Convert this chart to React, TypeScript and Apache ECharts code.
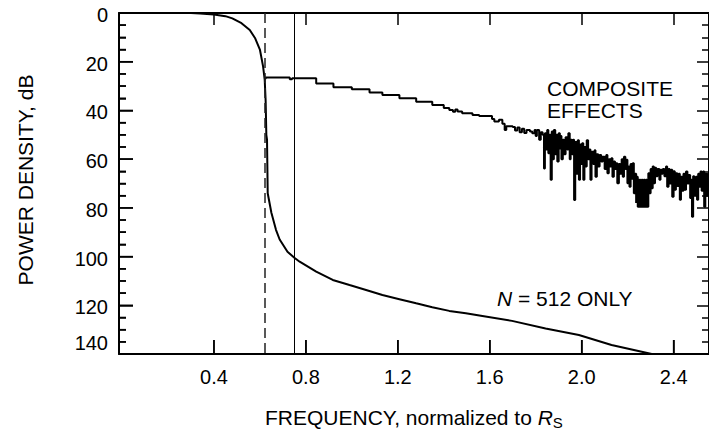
import React, { useEffect, useRef } from "react";
import * as echarts from "echarts";

const FONT = "'Liberation Sans', Arial, sans-serif";

const xTickValues = [0.4, 0.8, 1.2, 1.6, 2.0, 2.4];
const yTickMarks = [
  0, 5, 10, 15, 20, 25, 30, 35, 40, 45, 50, 55, 60, 65, 70, 75, 80, 85, 90, 95,
  100, 105, 110, 115, 120, 125, 130, 135, 140,
];
const yMin = 0;
const yMax = 140;
const yInterval = 20;
const xMin = -0.013;
const xMax = 2.554;

const cutoffDashed = 0.62;
const cutoffSolid = 0.75;

// N = 512 only  [frequency, dB]
const n512Data: [number, number][] = [
  [0, 0], [0.1, 0], [0.2, 0], [0.3, 0], [0.34, 0.2], [0.4, 0.6], [0.45, 1.3],
  [0.48, 2.2], [0.52, 4.2], [0.556, 7], [0.58, 10.5], [0.6, 15], [0.614, 22],
  [0.621, 27.5], [0.625, 36], [0.628, 50], [0.631, 52], [0.634, 74], [0.65, 82],
  [0.67, 89], [0.686, 93], [0.72, 98], [0.75, 100.5], [0.773, 102.1],
  [0.845, 106.2], [0.917, 109.6], [0.99, 111.7], [1.062, 113.7], [1.133, 115.8],
  [1.207, 117.5], [1.28, 119.2], [1.35, 120.8], [1.424, 122.3], [1.496, 123.3],
  [1.568, 124.4], [1.697, 126.4], [1.843, 129.5], [1.988, 132.2], [2.13, 136.3],
  [2.305, 140],
];

// Composite effects  [frequency, dB]
const compositeData: [number, number][] = [
  [0.62, 27.0], [0.625, 26.5], [0.73, 27.2], [0.74, 26.8], [0.845, 28.9], [0.92, 30.5],
  [1.0, 31.3], [1.077, 32.6], [1.133, 33.7], [1.207, 35.0], [1.28, 36.4], [1.35, 37.8],
  [1.4, 39.0], [1.424, 39.8], [1.44, 40.5], [1.45, 39.6], [1.46, 40.4], [1.48, 41.2],
  [1.525, 41.9], [1.554, 42.3], [1.6, 42.3], [1.61, 43.5], [1.62, 44.5], [1.64, 43.8],
  [1.655, 45.5], [1.665, 48.0], [1.672, 46.5], [1.7, 46.8], [1.71, 48.2], [1.72, 47.0],
  [1.73, 49.0], [1.74, 47.5], [1.75, 49.3], [1.76, 48.0], [1.775, 48.6], [1.785, 49.4],
  [1.795, 48.0], [1.8, 50.5], [1.805, 48.0], [1.815, 52.0], [1.822, 49.0], [1.83, 50.0],
  [1.836, 63.8], [1.84, 49.4], [1.845, 56.0], [1.85, 48.0], [1.855, 57.6], [1.86, 50.0],
  [1.865, 68.5], [1.87, 48.7], [1.875, 60.0], [1.879, 48.0], [1.885, 58.0], [1.89, 50.0],
  [1.894, 61.0], [1.9, 49.4], [1.905, 56.0], [1.908, 50.5], [1.912, 60.0], [1.918, 52.0],
  [1.923, 58.0], [1.93, 51.0], [1.937, 56.0], [1.942, 49.4], [1.948, 60.0], [1.952, 52.0],
  [1.958, 58.0], [1.963, 52.0], [1.967, 76.8], [1.972, 53.0], [1.978, 66.0], [1.983, 52.2],
  [1.988, 68.5], [1.993, 54.0], [1.998, 62.0], [2.002, 53.5], [2.007, 68.5], [2.012, 55.0],
  [2.017, 63.0], [2.022, 52.2], [2.028, 60.0], [2.033, 56.0], [2.038, 68.5], [2.043, 57.0],
  [2.05, 62.0], [2.056, 56.3], [2.06, 67.2], [2.066, 58.0], [2.072, 63.0], [2.078, 58.3],
  [2.085, 61.0], [2.092, 59.0], [2.1, 64.0], [2.107, 58.3], [2.112, 65.8], [2.118, 60.0],
  [2.124, 63.0], [2.129, 59.6], [2.134, 67.2], [2.14, 61.0], [2.145, 64.0], [2.15, 61.7],
  [2.155, 69.9], [2.162, 62.0], [2.168, 66.0], [2.174, 60.0], [2.179, 67.2], [2.184, 59.0],
  [2.19, 64.0], [2.194, 60.3], [2.199, 69.9], [2.204, 63.0], [2.208, 71.3], [2.213, 62.0],
  [2.218, 68.0], [2.222, 61.7], [2.227, 74.0], [2.232, 66.0], [2.237, 78.0], [2.24, 67.2],
  [2.244, 79.5], [2.248, 68.5], [2.252, 79.5], [2.256, 68.5], [2.26, 79.5], [2.264, 68.5],
  [2.268, 79.5], [2.272, 68.5], [2.276, 79.5], [2.28, 68.5], [2.284, 79.5], [2.29, 65.8],
  [2.295, 74.0], [2.3, 64.0], [2.305, 72.0], [2.309, 63.0], [2.314, 69.9], [2.319, 63.5],
  [2.324, 67.0], [2.33, 64.0], [2.338, 68.5], [2.343, 64.4], [2.348, 66.0], [2.353, 64.0],
  [2.36, 67.0], [2.367, 63.0], [2.372, 71.3], [2.378, 64.0], [2.383, 70.0], [2.389, 64.4],
  [2.394, 75.4], [2.4, 65.0], [2.405, 72.6], [2.41, 65.8], [2.416, 71.0], [2.422, 66.0],
  [2.427, 76.7], [2.432, 67.2], [2.438, 73.0], [2.443, 66.0], [2.448, 72.6], [2.454, 65.1],
  [2.46, 70.0], [2.466, 66.5], [2.472, 76.0], [2.476, 68.5], [2.48, 83.6], [2.485, 67.0],
  [2.49, 75.0], [2.497, 67.2], [2.502, 76.7], [2.507, 66.0], [2.512, 71.3], [2.517, 65.1],
  [2.522, 73.0], [2.528, 65.1], [2.533, 79.5], [2.538, 66.0], [2.543, 75.0], [2.548, 66.0],
  [2.555, 72.0],
];

const yAxisTitle = "POWER DENSITY, dB";
const xAxisTitle = "FREQUENCY, normalized to ";
const compositeLabel = ["COMPOSITE", "EFFECTS"];
const nLabel = " = 512 ONLY";

export default function App() {
  const ref = useRef<HTMLDivElement>(null);
  useEffect(() => {
    document.body.style.margin = "0";
    if (!ref.current) return;
    const chart = echarts.init(ref.current, null, { renderer: "svg" });
    const axisLine = { show: true, onZero: false, lineStyle: { color: "#000", width: 2 } };
    const noLine = { show: false, onZero: false };
    const tickStyle = { color: "#000", width: 1.5 };
    const xBase = { type: "value", min: xMin, max: xMax, splitLine: { show: false } };
    const yBase = {
      type: "value", inverse: true, min: yMin, max: yMax, interval: yInterval,
      splitLine: { show: false }, minorSplitLine: { show: false },
    };
    const texts: any[] = [
      {
        type: "text", x: 25, y: 180, rotation: Math.PI / 2,
        style: { text: yAxisTitle, fontSize: 21, fontFamily: FONT, fill: "#000", align: "center", verticalAlign: "middle" },
      },
      {
        type: "text", x: 265, y: 417,
        style: {
          text: "{a|" + xAxisTitle + "}{r|R}{s|S}",
          align: "left", verticalAlign: "middle",
          rich: {
            a: { fontSize: 21, fontFamily: FONT, fill: "#000" },
            r: { fontSize: 21, fontFamily: FONT, fontStyle: "italic", fill: "#000" },
            s: { fontSize: 15, fontFamily: FONT, fill: "#000", padding: [10, 0, 0, 0] },
          },
        },
      },
      {
        type: "text", x: 547, y: 88,
        style: { text: compositeLabel[0], fontSize: 21, fontFamily: FONT, fill: "#000", align: "left", verticalAlign: "middle" },
      },
      {
        type: "text", x: 547, y: 110,
        style: { text: compositeLabel[1], fontSize: 21, fontFamily: FONT, fill: "#000", align: "left", verticalAlign: "middle" },
      },
      {
        type: "text", x: 497, y: 298,
        style: {
          text: "{i|N}{n|" + nLabel + "}",
          align: "left", verticalAlign: "middle",
          rich: {
            i: { fontSize: 21, fontFamily: FONT, fontStyle: "italic", fill: "#000" },
            n: { fontSize: 21, fontFamily: FONT, fill: "#000" },
          },
        },
      },
    ];
    const option: any = {
      animation: false,
      backgroundColor: "#fff",
      grid: { left: 119, top: 13, width: 592, height: 341 },
      xAxis: [
        {
          ...xBase, position: "bottom", axisLine,
          axisTick: { show: true, inside: true, length: 14, customValues: xTickValues, lineStyle: tickStyle },
          axisLabel: { show: false },
        },
        {
          ...xBase, position: "top", axisLine,
          axisTick: { show: true, inside: true, length: 12, customValues: xTickValues, lineStyle: tickStyle },
          axisLabel: { show: false },
        },
        {
          ...xBase, position: "bottom", axisLine: noLine, axisTick: { show: false },
          axisLabel: {
            customValues: xTickValues,
            formatter: (v: number) => v.toFixed(1),
            fontSize: 20, color: "#000", fontFamily: FONT, margin: 13,
          },
        },
      ],
      yAxis: [
        {
          ...yBase, position: "left", axisLine,
          axisTick: { show: true, inside: true, length: 14, lineStyle: tickStyle },
          minorTick: { show: true, splitNumber: 4, length: 7, lineStyle: tickStyle },
          axisLabel: { show: false },
        },
        {
          ...yBase, position: "right", axisLine,
          axisTick: { show: true, inside: true, length: 12, lineStyle: tickStyle },
          minorTick: { show: true, splitNumber: 4, length: 7, lineStyle: tickStyle },
          axisLabel: { show: false },
        },
        {
          ...yBase, position: "left", axisLine: noLine, axisTick: { show: false },
          minorTick: { show: false },
          axisLabel: {
            fontSize: 20, color: "#000", fontFamily: FONT, margin: 11,
            formatter: (v: number) => (v === 140 ? "{up|140}" : "{n|" + v + "}"),
            rich: {
              n: { fontSize: 20, fontFamily: FONT, color: "#000", padding: [4, 0, 0, 0] },
              up: { fontSize: 20, fontFamily: FONT, color: "#000", padding: [0, 0, 22, 0] },
            },
          },
        },
      ],
      series: [
        {
          type: "line", name: "N = 512 ONLY", data: n512Data, showSymbol: false, symbol: "none",
          xAxisIndex: 2, yAxisIndex: 2,
          lineStyle: { color: "#000", width: 2 },
          markLine: {
            silent: true, symbol: ["none", "none"], label: { show: false },
            data: [
              { xAxis: cutoffDashed, lineStyle: { color: "#222", width: 1.5, type: [10, 5] } },
              { xAxis: cutoffSolid, lineStyle: { color: "#000", width: 1, type: "solid" } },
            ],
          },
        },
        {
          type: "line", name: "COMPOSITE EFFECTS", data: compositeData, showSymbol: false, symbol: "none",
          xAxisIndex: 2, yAxisIndex: 2,
          step: "end",
          lineStyle: { color: "#000", width: 2 },
        },
      ],
      graphic: texts,
    };
    chart.setOption(option);

    // Left and bottom tick marks placed through the chart's own scales
    const tickLines: any[] = [];
    yTickMarks.forEach((v) => {
      const p = chart.convertToPixel({ seriesIndex: 0 }, [xMin, v]) as number[];
      if (!p) return;
      const len = v % 20 === 0 ? 14 : 7;
      tickLines.push({
        type: "line", silent: true, z: 100,
        shape: { x1: p[0], y1: p[1], x2: p[0] + len, y2: p[1] },
        style: { stroke: "#000", lineWidth: 1.5 },
      });
    });
    xTickValues.forEach((v) => {
      const p = chart.convertToPixel({ seriesIndex: 0 }, [v, yMax]) as number[];
      if (!p) return;
      tickLines.push({
        type: "line", silent: true, z: 100,
        shape: { x1: p[0], y1: p[1], x2: p[0], y2: p[1] - 14 },
        style: { stroke: "#000", lineWidth: 1.5 },
      });
    });
    chart.setOption({ graphic: [...texts, ...tickLines] });

    return () => chart.dispose();
  }, []);
  return <div ref={ref} style={{ width: 709, height: 432 }} />;
}
